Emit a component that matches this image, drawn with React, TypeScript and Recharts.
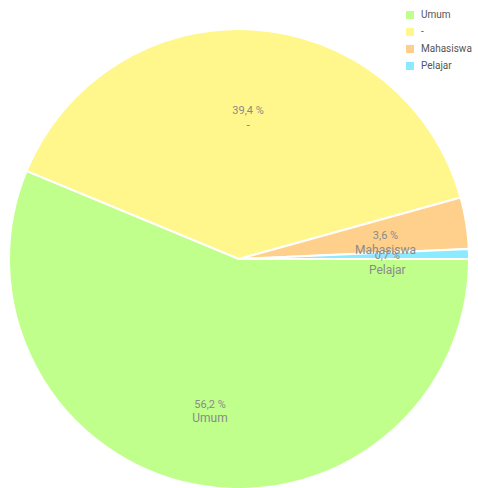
import * as React from "react";
import { PieChart, Pie, Cell, Legend } from "recharts";

const categories = ["Umum", "-", "Mahasiswa", "Pelajar"];
const shares = [56.2, 39.4, 3.6, 0.7];
const colors = ["#c0ff8c", "#fff78c", "#ffd08c", "#8ceaff"];

const data = categories.map((name, i) => ({ name, value: shares[i] }));

const RAD = Math.PI / 180;

function SliceLabel(props: any) {
  const { cx, cy, midAngle, outerRadius, value, name } = props;
  const r = outerRadius * 0.645;
  const x = cx + r * Math.cos(-midAngle * RAD);
  const y = cy + r * Math.sin(-midAngle * RAD);
  const pct = value.toFixed(1).replace(".", ",") + " %";
  return (
    <g fill="#8a8a8a" fontFamily="Roboto, sans-serif" textAnchor="middle">
      <text x={x} y={y} fontSize={11} dominantBaseline="central">
        {pct}
      </text>
      <text x={x} y={y + 14} fontSize={12} dominantBaseline="central">
        {name}
      </text>
    </g>
  );
}

function LegendBox() {
  return (
    <div style={{ fontFamily: "Roboto, sans-serif", fontSize: 10, color: "#555" }}>
      {categories.map((c, i) => (
        <div
          key={c}
          style={{ display: "flex", alignItems: "center", height: 17 }}
        >
          <span
            style={{
              display: "inline-block",
              width: 8,
              height: 8,
              background: colors[i],
              marginRight: 7,
            }}
          />
          <span>{c}</span>
        </div>
      ))}
    </div>
  );
}

export default function App() {
  return (
    <div style={{ position: "absolute", left: 0, top: 0, background: "#fff" }}>
      <PieChart width={478} height={488} margin={{ top: 0, right: 0, bottom: 0, left: 0 }}>
        <Pie
          data={data}
          dataKey="value"
          nameKey="name"
          cx={239}
          cy={259}
          outerRadius={230}
          startAngle={0}
          endAngle={-360}
          stroke="#ffffff"
          strokeWidth={2}
          labelLine={false}
          label={SliceLabel}
          isAnimationActive={false}
        >
          {data.map((d, i) => (
            <Cell key={d.name} fill={colors[i]} />
          ))}
        </Pie>
        <Legend
          content={() => <LegendBox />}
          wrapperStyle={{ position: "absolute", left: 406, top: 6, width: 72 }}
        />
      </PieChart>
    </div>
  );
}
